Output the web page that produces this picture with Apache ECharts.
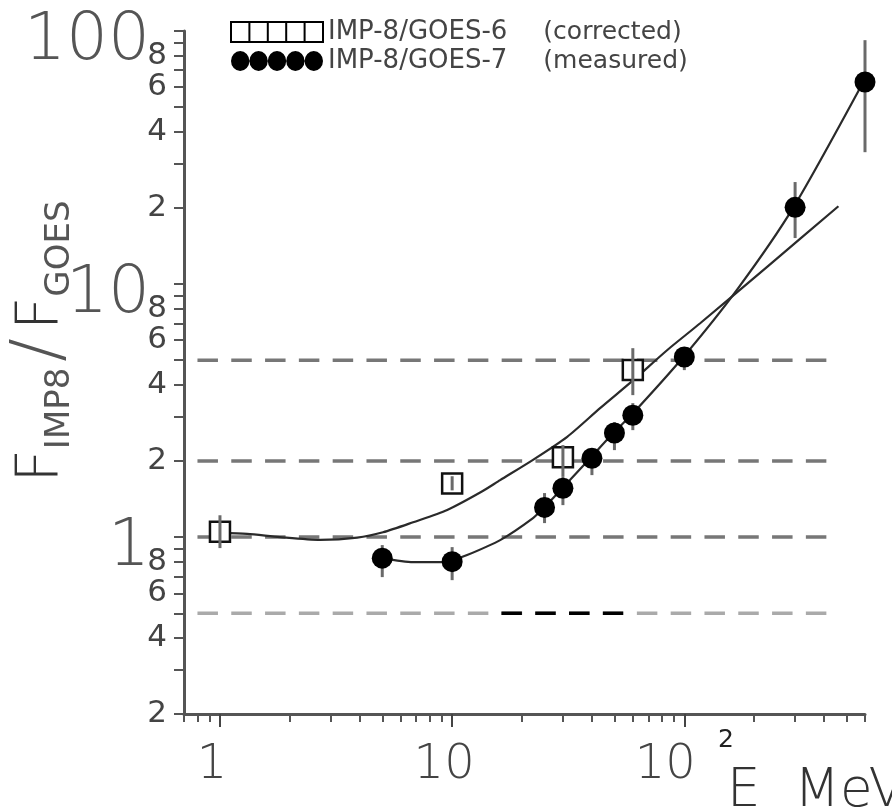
<!DOCTYPE html>
<html>
<head>
<meta charset="utf-8">
<script src="https://cdn.jsdelivr.net/npm/echarts@6.0.0/dist/echarts.min.js"></script>
<style>
  html, body { margin: 0; padding: 0; background: #fff; }
  #chart { width: 892px; height: 812px; }
</style>
</head>
<body>
<div id="chart"></div>
<script>
// axis ranges and ticks
const xMin = 0.7, xMax = 600;
const yMin = 0.2, yMax = 100;
const xTickValues = [0.7, 0.8, 0.9, 1, 2, 3, 4, 5, 6, 7, 8, 9, 10, 20, 30, 40, 50, 60, 70, 80, 90, 100, 200, 300, 400, 500, 600];
const xMajorTicks = [1, 10, 100];
const xLabelValues = [1, 10, 100];
const xLabelText = ["1", "10", "10"];
const xLabelSup = ["", "", "2"];
const yTickValues = [0.2, 0.3, 0.4, 0.5, 0.6, 0.7, 0.8, 0.9, 1, 2, 3, 4, 5, 6, 7, 8, 9, 10, 20, 30, 40, 50, 60, 70, 80, 90, 100];
const yLabelValues = [0.2, 0.4, 0.6, 0.8, 1, 2, 4, 6, 8, 10, 20, 40, 60, 80, 100];
const yLabelText = ["2", "4", "6", "8", "1", "2", "4", "6", "8", "10", "2", "4", "6", "8", "100"];

// reference levels (dashed)
const refLevels = [5, 2, 1, 0.5];
const refFrom = 0.8, refTo = 413;
const blackLevel = 0.5, blackFrom = 16.3, blackTo = 54.5;

// IMP-8/GOES-6 (corrected)
const g6Name = "IMP-8/GOES-6  (corrected)";
const g6X = [1, 10, 30, 60];
const g6Y = [1.05, 1.63, 2.07, 4.57];
const g6Lo = [0.905, 1.53, 1.73, 3.64];
const g6Hi = [1.22, 1.74, 2.31, 5.58];

// IMP-8/GOES-7 (measured)
const g7Name = "IMP-8/GOES-7  (measured)";
const g7X = [5, 10, 25, 30, 40, 50, 60, 100, 300, 600];
const g7Y = [0.826, 0.80, 1.31, 1.56, 2.05, 2.58, 3.03, 5.15, 20.1, 62.9];
const g7Lo = [0.695, 0.676, 1.136, 1.338, 1.758, 2.207, 2.647, 4.57, 15.2, 33.2];
const g7Hi = [0.93, 0.913, 1.493, 1.727, 2.247, 2.846, 3.384, 5.63, 25.3, 92.0];

// fitted curves
const fit6X = [1, 1.31, 1.81, 2.7, 3.9, 5.04, 6.79, 9.52, 13.2, 16.1, 22.3, 31.3, 43.5, 60.3, 84.5, 117, 230, 461];
const fit6Y = [1.04, 1.03, 1.0, 0.975, 0.995, 1.045, 1.145, 1.28, 1.5, 1.68, 2.02, 2.49, 3.24, 4.17, 5.49, 7.0, 11.8, 20.3];
const fit7X = [5, 6.79, 8.88, 10, 11.6, 16.1, 22.3, 24.9, 29.8, 39.3, 49.4, 59, 99, 170, 295, 590];
const fit7Y = [0.826, 0.796, 0.796, 0.811, 0.849, 0.973, 1.189, 1.31, 1.56, 2.05, 2.58, 3.03, 5.15, 9.6, 20.1, 62.9];

const font = "DejaVu Sans";
const zip = (xs, ys) => xs.map((x, i) => [x, ys[i]]);
const sameLog = (a, b) => Math.abs(Math.log10(a) - Math.log10(b)) < 1e-6;
const isDecade = (v) => Math.abs(Math.log10(v) - Math.round(Math.log10(v))) < 1e-6;
const yBigValues = yLabelValues.filter(isDecade);
const ySmallValues = yLabelValues.filter((v) => !isDecade(v));
const yLabelFor = (v) => {
  const i = yLabelValues.findIndex((t) => sameLog(t, v));
  return i < 0 ? "" : yLabelText[i];
};

function errorBars(name, xs, lo, hi, z) {
  return {
    name: name,
    type: "custom",
    z: z,
    silent: true,
    data: xs.map((x, i) => [x, lo[i], hi[i]]),
    encode: { x: 0, y: [1, 2] },
    renderItem: function (params, api) {
      const a = api.coord([api.value(0), api.value(1)]);
      const b = api.coord([api.value(0), api.value(2)]);
      return {
        type: "line",
        shape: { x1: a[0], y1: a[1], x2: b[0], y2: b[1] },
        style: { stroke: "#6a6a6a", lineWidth: 3 }
      };
    }
  };
}

const dash = [20.5, 13.3];
const refSeries = refLevels.map((lv) => ({
  type: "line",
  z: 1,
  silent: true,
  showSymbol: false,
  data: [[refFrom, lv], [refTo, lv]],
  lineStyle: { color: lv === blackLevel ? "#aaaaaa" : "#777777", width: 3.5, type: dash }
}));

const squares = "path://M0,0H18.4V20H0Z M18.4,0H36.8V20H18.4Z M36.8,0H55.2V20H36.8Z M55.2,0H73.6V20H55.2Z M73.6,0H92V20H73.6Z";
const dots = "path://M0,10A9.2,10 0 1,0 18.4,10A9.2,10 0 1,0 0,10Z M18.4,10A9.2,10 0 1,0 36.8,10A9.2,10 0 1,0 18.4,10Z M36.8,10A9.2,10 0 1,0 55.2,10A9.2,10 0 1,0 36.8,10Z M55.2,10A9.2,10 0 1,0 73.6,10A9.2,10 0 1,0 55.2,10Z M73.6,10A9.2,10 0 1,0 92,10A9.2,10 0 1,0 73.6,10Z";

const chart = echarts.init(document.getElementById("chart"), null, { renderer: "canvas" });

chart.setOption({
  animation: false,
  backgroundColor: "#fff",
  grid: { left: 184, right: 27, top: 31, bottom: 98, containLabel: false, outerBoundsMode: "none" },
  legend: {
    orient: "vertical",
    left: 225,
    top: 14,
    itemWidth: 92,
    itemHeight: 20,
    itemGap: 3,
    selectedMode: false,
    formatter: function (name) {
      const k = name.indexOf("  (");
      return "{a|" + name.slice(0, k) + "}{b|" + name.slice(k + 2) + "}";
    },
    textStyle: {
      fontFamily: font,
      fontSize: 25,
      color: "#444",
      rich: {
        a: { fontFamily: font, fontSize: 26, color: "#444" },
        b: { fontFamily: font, fontSize: 25, color: "#444", padding: [0, 0, 0, 36] }
      }
    },
    data: [
      { name: g6Name, icon: squares, itemStyle: { color: "#fff", borderColor: "#000", borderWidth: 2 } },
      { name: g7Name, icon: dots, itemStyle: { color: "#000", borderWidth: 0 } }
    ]
  },
  graphic: [
    {
      type: "text",
      left: 727,
      top: 766,
      silent: true,
      style: { text: "E  MeV", font: "200 53px 'DejaVu Sans'", fill: "#333" }
    }
  ],
  xAxis: [
    {
      type: "log",
      logBase: 10,
      min: xMin * 0.999999,
      max: xMax * 1.000001,
      position: "bottom",
      axisLine: { show: true, onZero: false, lineStyle: { color: "#555", width: 3 } },
      axisTick: { show: true, inside: false, length: 8, customValues: xTickValues, lineStyle: { color: "#555", width: 2 } },
      minorTick: { show: false },
      splitLine: { show: false },
      axisLabel: {
        customValues: xLabelValues,
        showMinLabel: true,
        showMaxLabel: true,
        margin: 14,
        color: "#444",
        fontFamily: font,
        fontSize: 48,
        formatter: function (v) {
          const i = xLabelValues.findIndex((t) => sameLog(t, v));
          if (i < 0) return "";
          if (xLabelSup[i]) return "{m|" + xLabelText[i] + "}{sup|" + xLabelSup[i] + "}";
          return "{n|" + xLabelText[i] + "}";
        },
        rich: {
          n: { fontFamily: font, fontWeight: 200, fontSize: 48, lineHeight: 62, color: "#444", verticalAlign: "bottom", padding: [0, 16, 0, 0] },
          m: { fontFamily: font, fontWeight: 200, fontSize: 48, lineHeight: 62, color: "#444", verticalAlign: "bottom", padding: [0, 22, 0, 0] },
          sup: { fontFamily: font, fontSize: 25, lineHeight: 25, color: "#222", verticalAlign: "top" }
        }
      }
    },
    {
      type: "log",
      logBase: 10,
      min: xMin * 0.999999,
      max: xMax * 1.000001,
      position: "bottom",
      axisLine: { show: false },
      axisTick: { show: true, inside: false, length: 13, customValues: xMajorTicks, lineStyle: { color: "#444", width: 2 } },
      axisLabel: { show: false },
      splitLine: { show: false }
    }
  ],
  yAxis: [
    {
      type: "log",
      logBase: 10,
      position: "left",
      min: yMin * 0.999999,
      max: yMax * 1.000001,
      axisLine: { show: true, onZero: false, lineStyle: { color: "#555", width: 3 } },
      axisTick: { show: true, inside: false, length: 10, customValues: yTickValues, lineStyle: { color: "#555", width: 2 } },
      minorTick: { show: false },
      splitLine: { show: false },
      axisLabel: {
        customValues: yBigValues,
        showMinLabel: true,
        showMaxLabel: true,
        margin: 34,
        formatter: (v) => "{big|" + yLabelFor(v) + "}",
        rich: {
          big: { fontFamily: font, fontWeight: 200, fontSize: 66, lineHeight: 66, color: "#555", padding: [22, 0, 0, 0] }
        }
      },
      name: "{F|F}{sub|IMP8}{sl|/}{F|F}{sub|GOES}",
      nameLocation: "middle",
      nameRotate: 90,
      nameGap: 107,
      nameMoveOverlap: false,
      nameTextStyle: {
        padding: [0, 0, 0, 62],
        rich: {
          F: { fontFamily: font, fontWeight: 200, fontSize: 58, lineHeight: 58, color: "#333", verticalAlign: "bottom", padding: [0, 0, 5, 0] },
          sub: { fontFamily: font, fontSize: 34, lineHeight: 34, color: "#555", verticalAlign: "bottom" },
          sl: { fontFamily: font, fontWeight: 200, fontSize: 70, lineHeight: 70, color: "#555", verticalAlign: "bottom", padding: [0, 8, 0, 6] }
        }
      }
    },
    {
      type: "log",
      logBase: 10,
      position: "left",
      min: yMin * 0.999999,
      max: yMax * 1.000001,
      axisLine: { show: false },
      axisTick: { show: false },
      minorTick: { show: false },
      splitLine: { show: false },
      axisLabel: {
        customValues: ySmallValues,
        showMinLabel: true,
        showMaxLabel: true,
        margin: 17,
        color: "#444",
        fontFamily: font,
        fontSize: 31,
        formatter: (v) => yLabelFor(v)
      }
    }
  ],
  series: refSeries.concat([
    {
      type: "line",
      z: 1,
      silent: true,
      showSymbol: false,
      data: [[blackFrom, blackLevel], [blackTo, blackLevel]],
      lineStyle: { color: "#000", width: 3.5, type: dash }
    },
    {
      type: "line",
      z: 2,
      silent: true,
      showSymbol: false,
      smooth: 0.25,
      data: zip(fit6X, fit6Y),
      lineStyle: { color: "#2a2a2a", width: 2.2 }
    },
    {
      type: "line",
      z: 2,
      silent: true,
      showSymbol: false,
      smooth: 0.25,
      data: zip(fit7X, fit7Y),
      lineStyle: { color: "#2a2a2a", width: 2.2 }
    },
    {
      name: g6Name,
      type: "scatter",
      z: 3,
      symbol: "rect",
      symbolSize: 20,
      data: zip(g6X, g6Y),
      itemStyle: { color: "#fff", borderColor: "#111", borderWidth: 2.5, opacity: 1 }
    },
    errorBars("err6", g6X, g6Lo, g6Hi, 4),
    errorBars("err7", g7X, g7Lo, g7Hi, 4),
    {
      name: g7Name,
      type: "scatter",
      z: 5,
      symbol: "circle",
      symbolSize: 21,
      data: zip(g7X, g7Y),
      itemStyle: { color: "#000", opacity: 1 }
    }
  ])
});
</script>
</body>
</html>
